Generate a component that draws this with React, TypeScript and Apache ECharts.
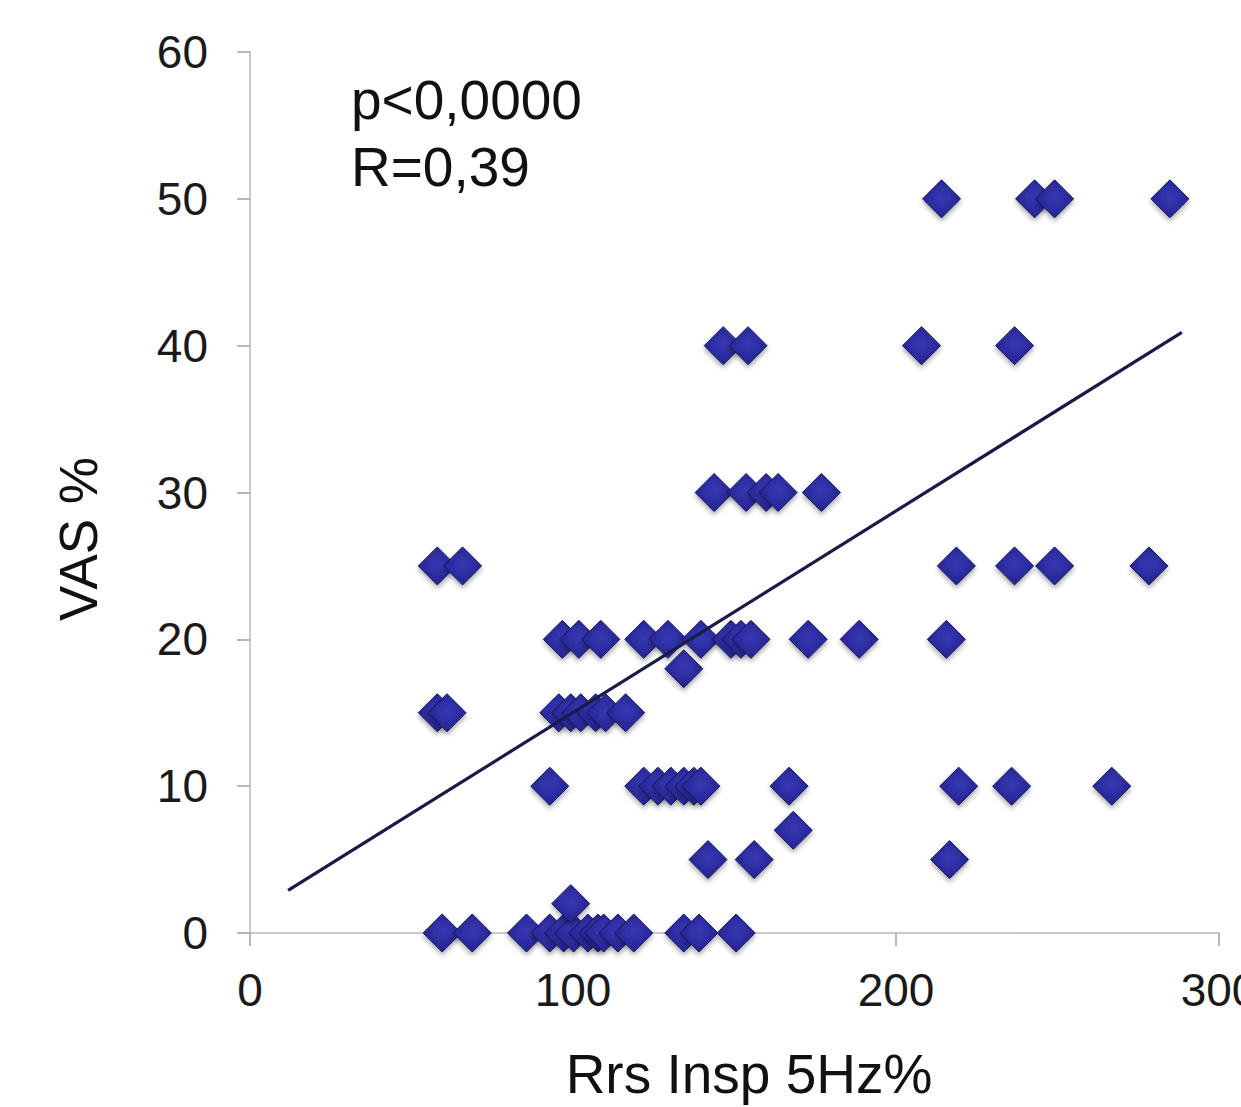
import React, { useEffect, useRef } from "react";
import * as echarts from "echarts";

// Scatter values grouped by VAS % level (y) -> Rrs Insp 5Hz% values (x)
const yLevels = [0, 2, 5, 7, 10, 15, 18, 20, 25, 30, 40, 50];
const xAt0 = [59.5, 68.8, 85.6, 92.8, 97.1, 100.2, 104.6, 107.7, 109.5, 113.9, 118.8, 134.3, 139, 150.5];
const xAt2 = [99.3];
const xAt5 = [141.8, 156.1, 216.6];
const xAt7 = [168.2];
const xAt10 = [92.8, 121.9, 126.3, 130.3, 134.3, 137.4, 139.6, 166.9, 219.4, 235.8, 266.8];
const xAt15 = [58, 61, 95.6, 99.3, 102.4, 107, 110.1, 116.3];
const xAt18 = [134.3];
const xAt20 = [96.7, 101.8, 108.6, 121.9, 129.4, 139.6, 148.9, 152, 155.1, 172.8, 188.6, 215.6];
const xAt25 = [58, 65.8, 218.7, 236.7, 249.1, 278.3];
const xAt30 = [143.7, 153.6, 159.8, 163.5, 176.9];
const xAt40 = [146.5, 154.2, 207.9, 236.7];
const xAt50 = [214.1, 242.9, 249.1, 284.8];
const xGroups = [xAt0, xAt2, xAt5, xAt7, xAt10, xAt15, xAt18, xAt20, xAt25, xAt30, xAt40, xAt50];

// Regression line end points
const trendX = [11.8, 288.5];
const trendY = [2.9, 40.9];

const xTicks = [0, 100, 200, 300];
const yTicks = [0, 10, 20, 30, 40, 50, 60];

const statLines = ["p<0,0000", "R=0,39"];
const xName = "Rrs Insp 5Hz%";
const yName = "VAS %";

const FONT = "'Liberation Sans', Arial, Helvetica, sans-serif";

export default function App() {
  const ref = useRef<HTMLDivElement>(null);
  useEffect(() => {
    if (!ref.current) return;
    const chart = echarts.init(ref.current, undefined, { renderer: "svg" });
    const points: number[][] = [];
    xGroups.forEach((g, i) => g.forEach((x) => points.push([x, yLevels[i]])));
    const trend = trendX.map((x, i) => [x, trendY[i]]);
    chart.setOption({
      animation: false,
      backgroundColor: "#ffffff",
      grid: {
        left: 250,
        right: 22,
        top: 52,
        bottom: 174,
        containLabel: false,
        outerBoundsMode: "none",
      },
      xAxis: {
        type: "value",
        min: xTicks[0],
        max: xTicks[xTicks.length - 1],
        interval: 100,
        axisLine: { show: true, lineStyle: { color: "#b8b8b8", width: 1.5 } },
        axisTick: { show: true, length: 13, lineStyle: { color: "#a0a0a0", width: 1.5 } },
        axisLabel: { fontFamily: FONT, fontSize: 46, color: "#1a1a1a", margin: 34 },
        splitLine: { show: false },
      },
      yAxis: {
        type: "value",
        min: yTicks[0],
        max: yTicks[yTicks.length - 1],
        interval: 10,
        axisLine: { show: true, lineStyle: { color: "#b8b8b8", width: 1.5 } },
        axisTick: { show: true, length: 13, lineStyle: { color: "#a0a0a0", width: 1.5 } },
        axisLabel: { fontFamily: FONT, fontSize: 46, color: "#1a1a1a", margin: 42 },
        splitLine: { show: false },
      },
      graphic: [
        {
          type: "text",
          left: 351,
          top: 72,
          style: { text: statLines[0], fontFamily: FONT, fontSize: 55, fill: "#111" },
        },
        {
          type: "text",
          left: 351,
          top: 139,
          style: { text: statLines[1], fontFamily: FONT, fontSize: 55, fill: "#111" },
        },
        {
          type: "text",
          x: 749,
          y: 1074,
          style: {
            text: xName,
            fontFamily: FONT,
            fontSize: 55,
            fill: "#111",
            align: "center",
            verticalAlign: "middle",
          },
        },
        {
          type: "text",
          x: 78,
          y: 539,
          rotation: Math.PI / 2,
          style: {
            text: yName,
            fontFamily: FONT,
            fontSize: 53,
            fill: "#111",
            align: "center",
            verticalAlign: "middle",
          },
        },
      ],
      series: [
        {
          type: "scatter",
          data: points,
          symbol: "diamond",
          symbolSize: 38,
          itemStyle: {
            opacity: 1,
            color: {
              type: "radial",
              x: 0.5,
              y: 0.45,
              r: 0.6,
              colorStops: [
                { offset: 0, color: "#3838b4" },
                { offset: 1, color: "#222290" },
              ],
            },
            borderColor: "#15155c",
            borderWidth: 1,
            shadowBlur: 5,
            shadowOffsetY: 3,
            shadowColor: "rgba(0,0,0,0.35)",
          },
          z: 2,
        },
        {
          type: "line",
          data: trend,
          symbol: "none",
          lineStyle: { color: "#1a1a48", width: 3.2 },
          z: 3,
        },
      ],
    });
    return () => chart.dispose();
  }, []);
  return (
    <div
      ref={ref}
      style={{ position: "absolute", left: 0, top: 0, width: 1241, height: 1107, background: "#fff" }}
    />
  );
}
